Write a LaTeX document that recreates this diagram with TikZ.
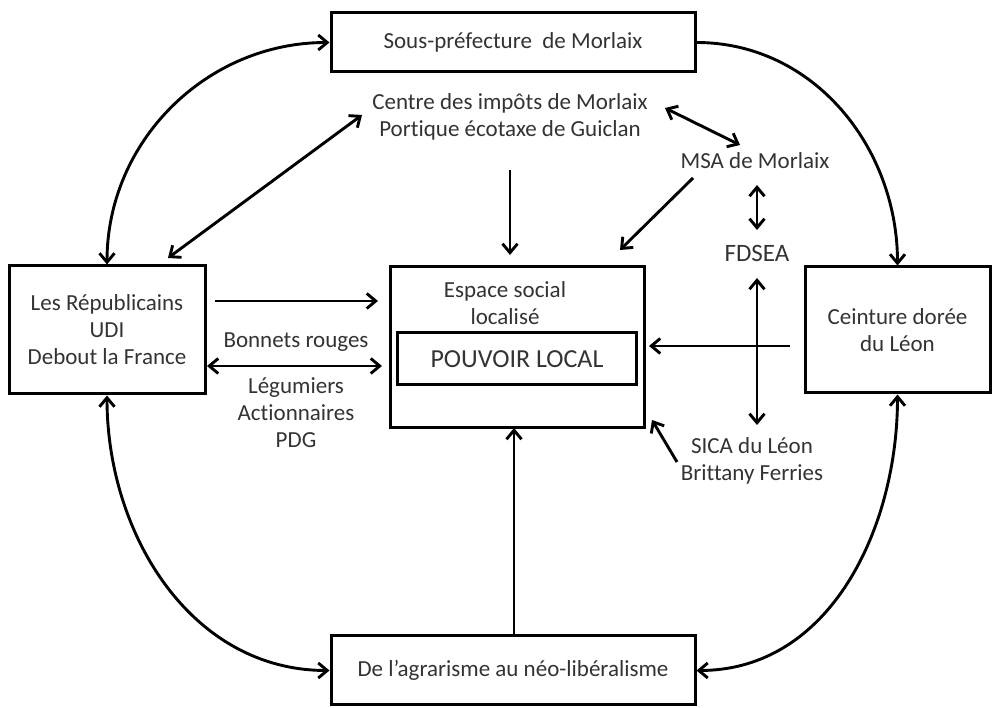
\documentclass[tikz,border=0pt]{standalone}
\usepackage{fontspec}
\setmainfont{Carlito}[Ligatures=NoCommon]
\usetikzlibrary{arrows.meta}
\begin{document}
\begin{tikzpicture}[x=1pt,y=1pt,
 box/.style={draw, line width=3pt, inner sep=0pt, align=center, text=black!80, font=\fontsize{23}{27}\selectfont},
 lbl/.style={inner sep=0pt, align=center, text=black!80, font=\fontsize{23}{27}\selectfont},
 tip/.tip={Straight Barb[length=9pt,width=15pt]},
 conn/.style={line width=2.9pt, -tip},
 bi/.style={line width=2.9pt, tip-tip}]
\useasboundingbox (0,0) rectangle (995,708);
% boxes
\node[box, minimum width=364pt, minimum height=59pt] (top) at (513,665.5) {Sous-préfecture\ \ de Morlaix};
\node[box, minimum width=196pt, minimum height=128pt] (rep) at (107,378) {Les Républicains\\UDI\\Debout la France};
\node[box, minimum width=254pt, minimum height=161pt] (esp) at (517,360.5) {};
\node[lbl] (esptxt) at (505,405) {Espace social\\localisé};
\node[box, minimum width=239pt, minimum height=52pt, font=\fontsize{26}{30}\selectfont] (pouv) at (517,349) {POUVOIR LOCAL};
\node[box, minimum width=185pt, minimum height=126pt] (ceint) at (897.5,378) {Ceinture dorée\\du Léon};
\node[box, minimum width=364pt, minimum height=69pt] (agr) at (513,37.5) {De l’agrarisme au néo-libéralisme};
% free labels
\node[lbl] (imp) at (510,591) {Centre des impôts de Morlaix\\Portique écotaxe de Guiclan};
\node[lbl] (msa) at (755,547) {MSA de Morlaix};
\node[lbl, font=\fontsize{25}{28}\selectfont] (fdsea) at (757,455) {FDSEA};
\node[lbl] (bonnets) at (296,366) {Bonnets rouges};
\node[lbl] (leg) at (296,295) {Légumiers\\Actionnaires\\PDG};
\node[lbl] (sica) at (752,247) {SICA du Léon\\Brittany Ferries};
% end points
\coordinate (d1) at (168,450);
\coordinate (d2) at (362,593);
\coordinate (i1) at (510,538);
\coordinate (i2) at (510,453);
\coordinate (m1) at (665,600);
\coordinate (m2) at (740,563);
\coordinate (m3) at (693,530);
\coordinate (m4) at (620,458);
\coordinate (f1) at (757,523);
\coordinate (f2) at (757,478);
\coordinate (f3) at (757,430);
\coordinate (f4) at (757,283);
\coordinate (c1) at (790,362);
\coordinate (c2) at (649,362);
\coordinate (r1) at (215,407);
\coordinate (r2) at (378,407);
\coordinate (r3) at (207,342);
\coordinate (r4) at (382,342);
\coordinate (s1) at (677,246);
\coordinate (s2) at (652,288);
\coordinate (a1) at (514,72);
\coordinate (a2) at (514,280);
% connectors
\draw[bi] (rep.north) to[out=90,in=180] (top.west);
\draw[conn] (top.east) to[out=0,in=90] (ceint.north);
\draw[bi] (rep.south) to[out=-90,in=180] (agr.west);
\draw[bi] (ceint.south) to[out=-90,in=0] (agr.east);
\draw[bi] (d1) -- (d2);
\draw[conn] (i1) -- (i2);
\draw[bi] (m1) -- (m2);
\draw[conn] (m3) -- (m4);
\draw[bi] (f1) -- (f2);
\draw[bi] (f3) -- (f4);
\draw[conn] (c1) -- (c2);
\draw[conn] (r1) -- (r2);
\draw[bi] (r3) -- (r4);
\draw[conn] (s1) -- (s2);
\draw[conn] (a1) -- (a2);
\end{tikzpicture}
\end{document}
